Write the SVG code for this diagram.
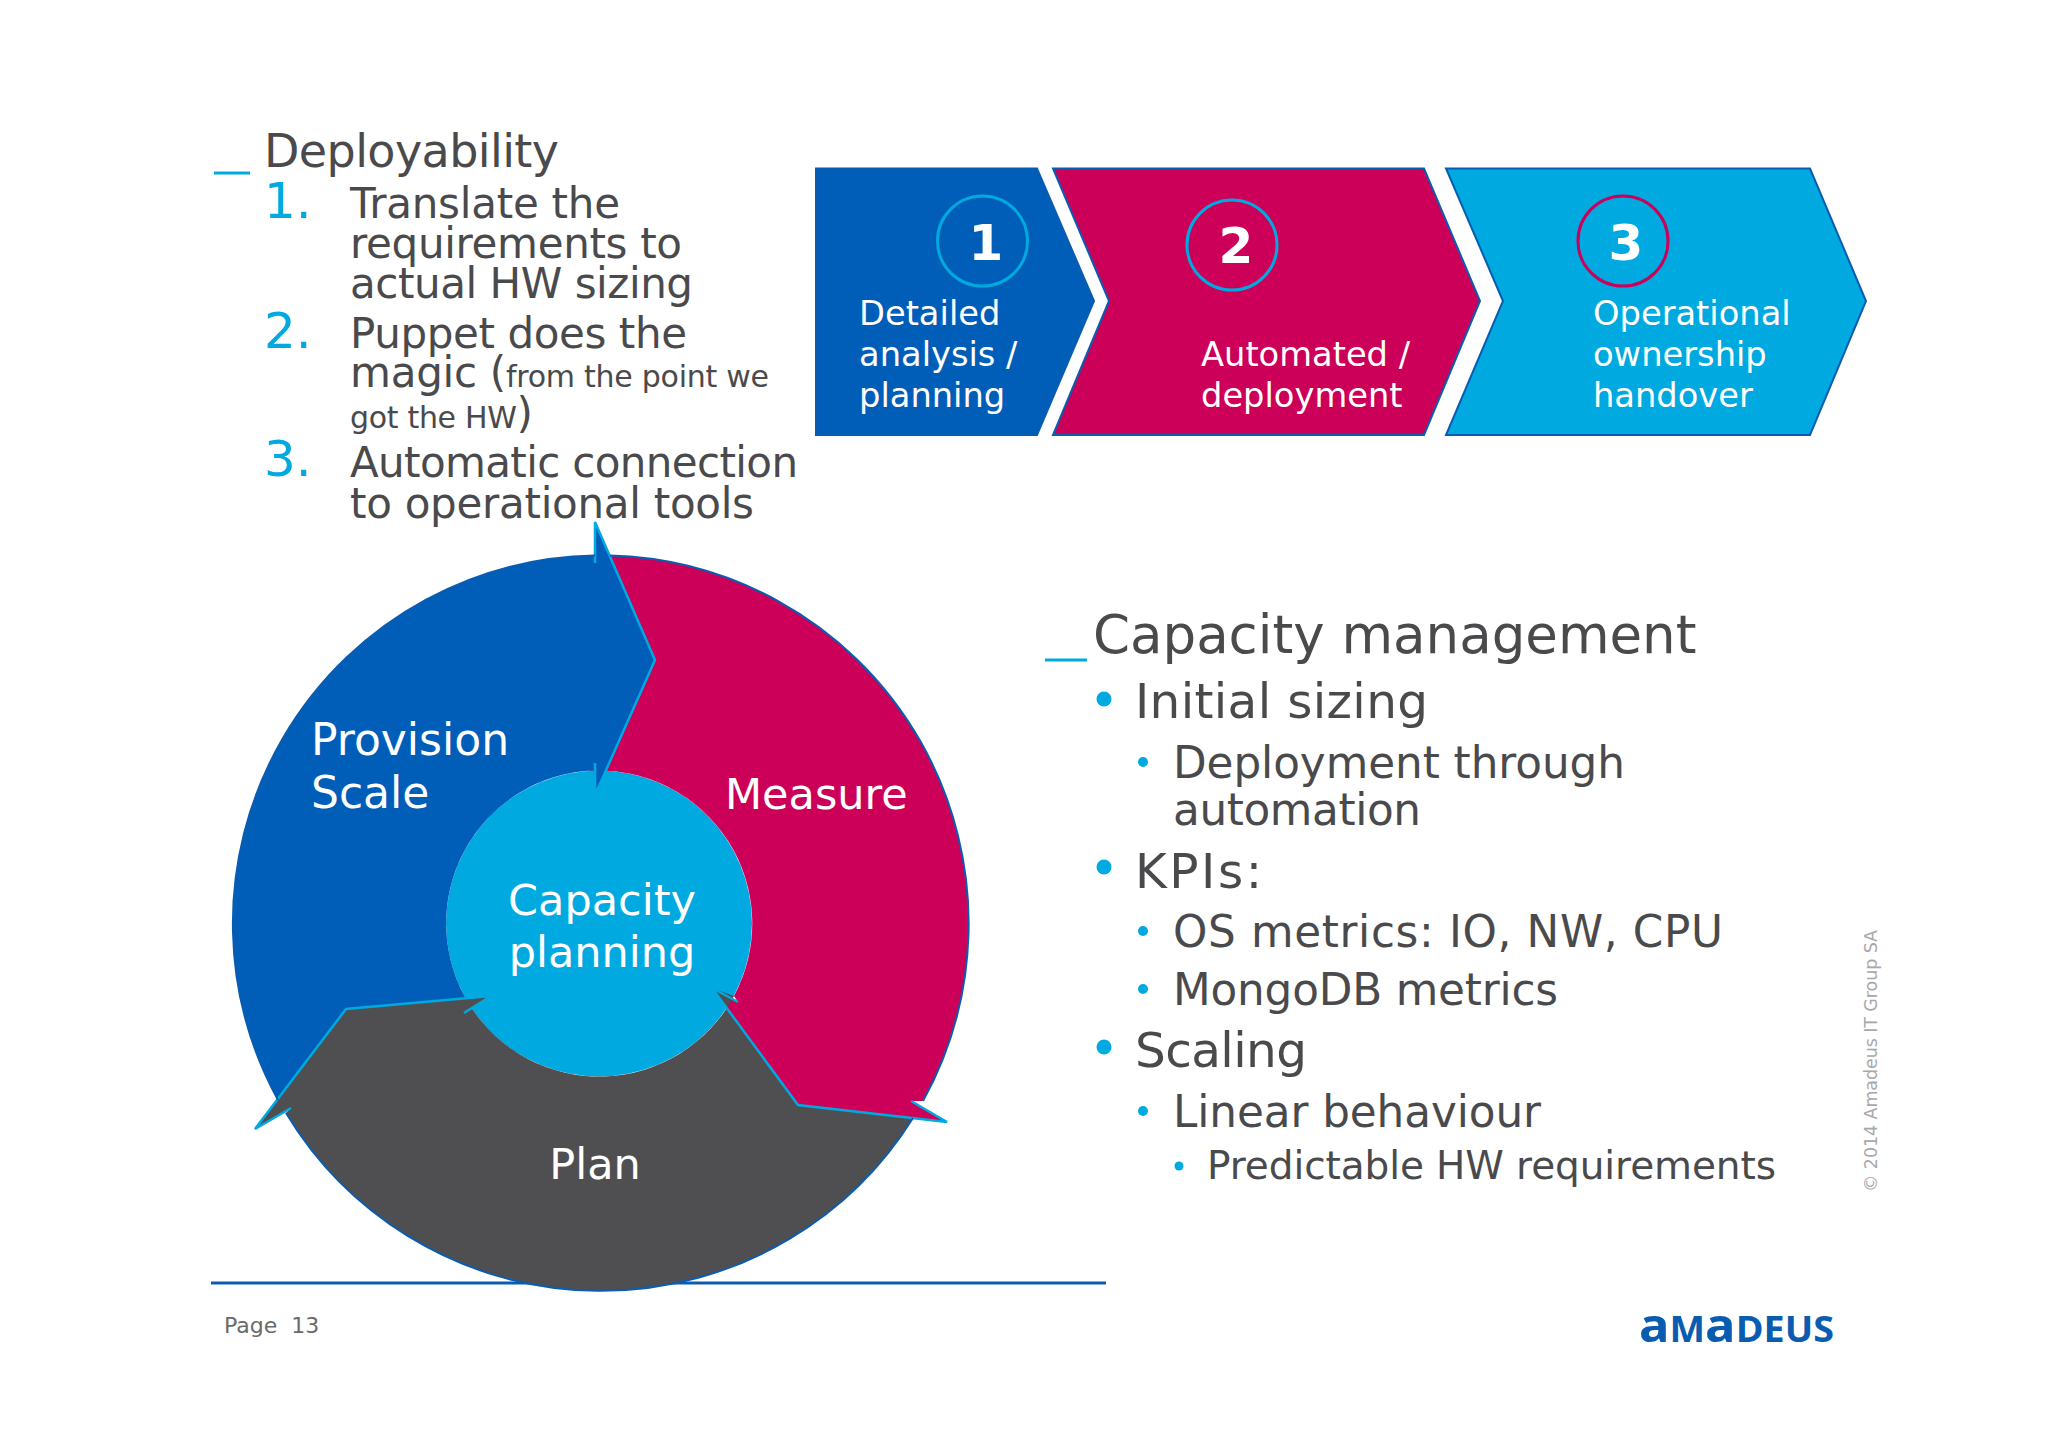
<svg xmlns="http://www.w3.org/2000/svg" width="2048" height="1447" viewBox="0 0 2048 1447">
<defs><style>
text{font-family:"DejaVu Sans","Liberation Sans",sans-serif}
.d{fill:#4a4a4c}.w{fill:#fff}.n{fill:#00a9e0}
.l1{font-size:42px}.s{font-size:30px}
.lb{font-size:33.7px;fill:#fff}.c{font-size:43px;fill:#fff}
.h{stroke:#00a9e0;stroke-width:2.5;fill:none;stroke-linejoin:miter}
.o{stroke:#0a5cb0;stroke-width:2;fill:none}
.b1{font-size:48.5px;fill:#4a4a4c}.b2{font-size:43.7px;fill:#4a4a4c}
.dot{fill:#00a9e0}
</style></defs>
<rect width="2048" height="1447" fill="#fff"/>

<g id="footer-line"><line x1="211" y1="1283" x2="1106" y2="1283" stroke="#0a5cb0" stroke-width="3"/></g>

<g id="deployability">
<line x1="214" y1="173" x2="250" y2="173" stroke="#00a9e0" stroke-width="3"/>
<text x="264" y="167" font-size="46" class="d" textLength="295">Deployability</text>
<text x="264" y="218" font-size="50" class="n">1.</text>
<text x="350" y="218" class="d l1" textLength="270">Translate the</text>
<text x="350" y="258" class="d l1" textLength="332">requirements to</text>
<text x="350" y="298" class="d l1" textLength="343">actual HW sizing</text>
<text x="264" y="348" font-size="50" class="n">2.</text>
<text x="350" y="348" class="d l1" textLength="337">Puppet does the</text>
<text x="350" y="387" class="d l1" textLength="419">magic (<tspan class="s">from the point we</tspan></text>
<text x="350" y="428" class="d" textLength="183"><tspan class="s">got the HW</tspan><tspan class="l1">)</tspan></text>
<text x="264" y="476" font-size="50" class="n">3.</text>
<text x="350" y="476.5" class="d l1" textLength="448">Automatic connection</text>
<text x="350" y="517.5" class="d l1" textLength="404">to operational tools</text>
</g>

<g id="step-1">
<path d="M816 168.5H1037L1094 301L1037 435H816Z" fill="#005eb8" stroke="#0a5cb0" stroke-width="2"/>
<circle cx="982.5" cy="241" r="45" fill="none" stroke="#00a9e0" stroke-width="3"/>
<text x="986" y="260" font-size="50" font-weight="700" text-anchor="middle" class="w">1</text>
<text x="859" y="325" class="lb">Detailed</text><text x="859" y="366" class="lb">analysis /</text><text x="859" y="407" class="lb">planning</text>
</g>
<g id="step-2">
<path d="M1053 168.5H1424L1480 301L1424 435H1053L1109 301Z" fill="#cc0058" stroke="#0a5cb0" stroke-width="2"/>
<circle cx="1232" cy="245" r="45" fill="none" stroke="#00a9e0" stroke-width="3"/>
<text x="1236" y="263" font-size="50" font-weight="700" text-anchor="middle" class="w">2</text>
<text x="1201" y="366" class="lb">Automated /</text><text x="1201" y="407" class="lb">deployment</text>
</g>
<g id="step-3">
<path d="M1446 168.5H1810L1866 301L1810 435H1446L1503 301Z" fill="#00a9e0" stroke="#0a5cb0" stroke-width="2"/>
<circle cx="1623" cy="241" r="45" fill="none" stroke="#cc0058" stroke-width="3"/>
<text x="1626" y="260" font-size="50" font-weight="700" text-anchor="middle" class="w">3</text>
<text x="1593" y="325" class="lb">Operational</text><text x="1593" y="366" class="lb">ownership</text><text x="1593" y="407" class="lb">handover</text>
</g>

<g id="cycle">
<circle id="hub" cx="599" cy="923.5" r="153" fill="#00a9e0"/>
<path id="measure" d="M590 555.7A368 368 0 0 1 923 1101L911 1101L947 1122L798 1105L712 988L738 1002L734 996A153 153 0 0 0 590 770.8Z" fill="#cc0058"/>
<path id="provision" d="M595 563V522L655 660L595 795V770.5A153 153 0 0 0 470 1005.5L346 1009L278 1100A368 368 0 0 1 595 555.5Z" fill="#005eb8"/>
<path id="plan" d="M913 1118A368 368 0 0 1 286 1113L291 1108L255 1129L346 1009L491 996L464 1013L470 1005.5A153 153 0 0 0 734 996L712 988L798 1105Z" fill="#4f4f51"/>
<path d="M911 1101L947 1122L798 1105L712 988L738 1002" class="h"/>
<path d="M595 563V522L655 660L595 795V763" class="h"/>
<path d="M291 1108L255 1129L346 1009L491 996L464 1013" class="h"/>
<path d="M595 555.5A368 368 0 0 0 278 1100M286 1113A368 368 0 0 0 913 1118M923 1101A368 368 0 0 0 610 555.6" class="o"/>
<text x="311" y="755" class="c" font-size="44" style="font-size:44px">Provision</text><text x="311" y="808" class="c" style="font-size:44px">Scale</text>
<text x="725" y="808.5" class="c">Measure</text>
<text x="602" y="915" class="c" text-anchor="middle">Capacity</text><text x="602" y="967" class="c" text-anchor="middle">planning</text>
<text x="595" y="1178.5" class="c" text-anchor="middle">Plan</text>
</g>

<g id="capacity">
<line x1="1045" y1="660" x2="1087" y2="660" stroke="#00a9e0" stroke-width="3"/>
<text x="1093" y="653" font-size="53" class="d">Capacity management</text>
<circle class="dot" cx="1104" cy="699" r="7.5"/><text x="1135" y="718" class="b1" textLength="293">Initial sizing</text>
<circle class="dot" cx="1143" cy="762" r="5"/><text x="1173" y="778" class="b2" textLength="452">Deployment through</text><text x="1173" y="825" class="b2" textLength="248">automation</text>
<circle class="dot" cx="1104" cy="867" r="7.5"/><text x="1135" y="888" class="b1" textLength="127">KPIs:</text>
<circle class="dot" cx="1143" cy="931" r="5"/><text x="1173" y="947" class="b2" textLength="550">OS metrics: IO, NW, CPU</text>
<circle class="dot" cx="1143" cy="989" r="5"/><text x="1173" y="1005" class="b2" textLength="385">MongoDB metrics</text>
<circle class="dot" cx="1104" cy="1047" r="7.5"/><text x="1135" y="1067" class="b1" textLength="172">Scaling</text>
<circle class="dot" cx="1143" cy="1111" r="5"/><text x="1173" y="1127" class="b2" textLength="368">Linear behaviour</text>
<circle class="dot" cx="1179" cy="1166" r="4.5"/><text x="1207" y="1179" font-size="39" class="d" textLength="569">Predictable HW requirements</text>
</g>

<g id="footer">
<text x="224" y="1333" font-size="22" fill="#6a6a6a" xml:space="preserve">Page  13</text>
<text transform="translate(1877 1192) rotate(-90)" font-size="17.5" fill="#a8a8aa" textLength="262">© 2014 Amadeus IT Group SA</text>
<text x="1639" y="1342" font-weight="700" fill="#0a5cb0" textLength="195" lengthAdjust="spacingAndGlyphs" style="font-family:'Open Sans',sans-serif;font-size:35px"><tspan font-size="47">a</tspan>M<tspan font-size="47">a</tspan>DEUS</text>
</g>
</svg>
